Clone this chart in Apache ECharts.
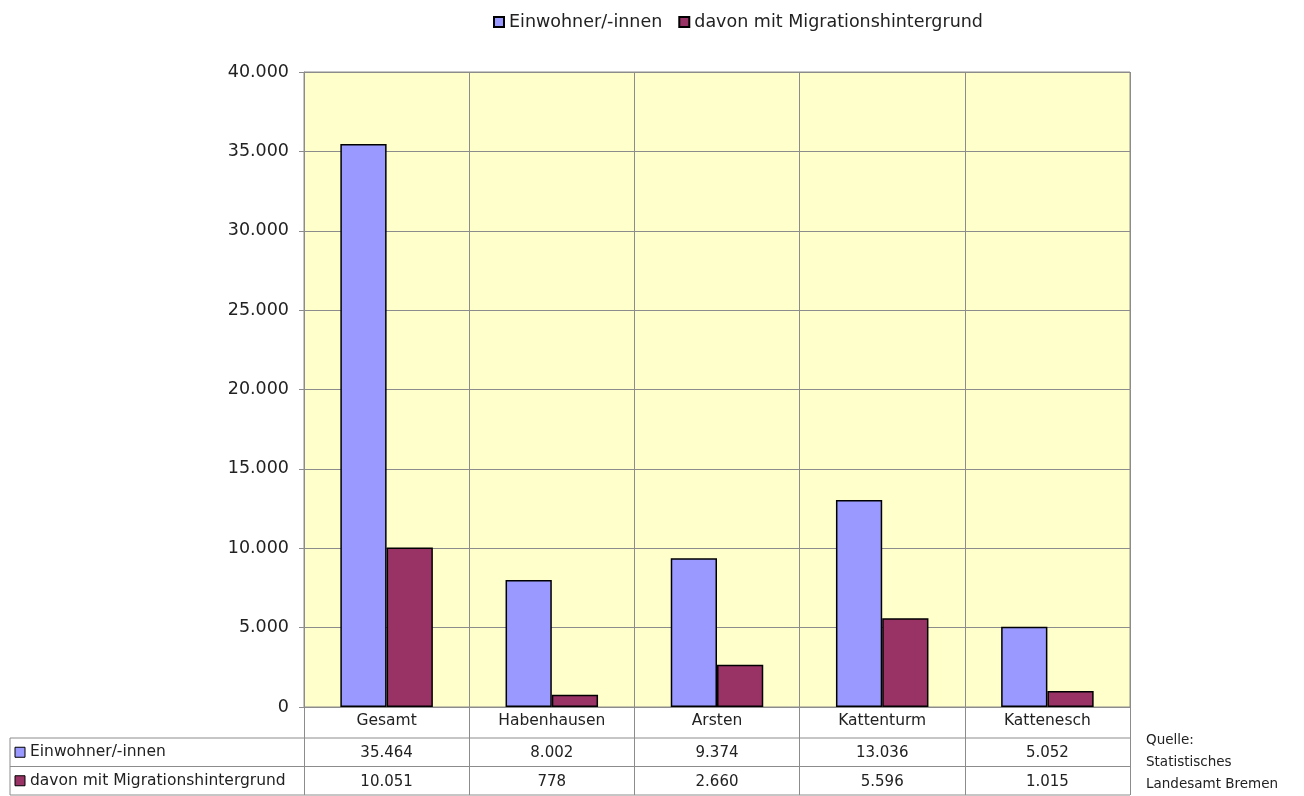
<!DOCTYPE html>
<html>
<head>
<meta charset="utf-8">
<script src="https://cdn.jsdelivr.net/npm/echarts@6/dist/echarts.min.js"></script>
<style>
  html, body { margin: 0; padding: 0; background: #fff; }
  #chart { width: 1304px; height: 796px; }
</style>
</head>
<body>
<div id="chart"></div>
<script>
const categories = ['Gesamt', 'Habenhausen', 'Arsten', 'Kattenturm', 'Kattenesch']
const einwohner = [35464, 8002, 9374, 13036, 5052]
const migration = [10051, 778, 2660, 5596, 1015]
const seriesNames = ['Einwohner/-innen', 'davon mit Migrationshintergrund']
const sourceLines = ['Quelle:', 'Statistisches', 'Landesamt Bremen']

const colors = ['#9999FF', '#993366']
const font = '"DejaVu Sans", Arial, sans-serif'
const textColor = '#222'
const lineColor = '#8c8c8c'

// plot area
const plotLeft = 304, plotRight = 1130, plotTop = 72, plotBottom = 707
const rowH = 28.5
const tableLeft = 10

// 35464 -> "35.464"
const fmt = v => String(v).replace(/\B(?=(\d{3})+(?!\d))/g, '.')

const tableAxis = (offset, values) => ({
  type: 'category',
  data: categories,
  position: 'bottom',
  offset: offset,
  axisLine: { show: false },
  axisTick: { show: false },
  axisLabel: {
    fontFamily: font, fontSize: 15, color: textColor, margin: 8,
    formatter: (v, i) => fmt(values[i])
  }
})

const tableGraphics = []
// horizontal table rows
;[plotBottom + 31, plotBottom + 31 + rowH, plotBottom + 31 + 2 * rowH].forEach(y => {
  tableGraphics.push({
    type: 'line',
    shape: { x1: tableLeft, y1: y, x2: plotRight, y2: y },
    style: { stroke: lineColor, lineWidth: 1 }
  })
})
tableGraphics.push({
  type: 'line',
  shape: { x1: tableLeft, y1: plotBottom + 31, x2: tableLeft, y2: plotBottom + 31 + 2 * rowH },
  style: { stroke: lineColor, lineWidth: 1 }
})
// row headers with keys
seriesNames.forEach((name, i) => {
  const cy = plotBottom + 31 + rowH * i + rowH / 2
  tableGraphics.push({
    type: 'rect',
    shape: { x: 15, y: cy - 5, width: 10, height: 10 },
    style: { fill: colors[i], stroke: '#000', lineWidth: 1 }
  })
  tableGraphics.push({
    type: 'text',
    x: 30, y: cy,
    style: { text: name, font: '15.5px ' + font, fill: textColor, textVerticalAlign: 'middle' }
  })
})
// source note
sourceLines.forEach((t, i) => {
  tableGraphics.push({
    type: 'text',
    x: 1146, y: 740 + i * 22,
    style: { text: t, font: '13.5px ' + font, fill: textColor, textVerticalAlign: 'middle' }
  })
})

const option = {
  animation: false,
  textStyle: { fontFamily: font },
  legend: {
    data: seriesNames,
    left: 488,
    top: 8,
    icon: 'rect',
    itemWidth: 10,
    itemHeight: 10,
    itemGap: 16,
    textStyle: { fontFamily: font, fontSize: 17.5, color: textColor }
  },
  grid: {
    left: plotLeft,
    right: 1304 - plotRight,
    top: plotTop,
    bottom: 796 - plotBottom,
    show: true,
    backgroundColor: '#FFFFCC',
    borderColor: lineColor,
    borderWidth: 1,
    containLabel: false
  },
  xAxis: [
    {
      type: 'category',
      data: categories,
      position: 'bottom',
      axisLine: { show: true, lineStyle: { color: lineColor } },
      axisTick: { show: true, length: 31 + 2 * rowH, lineStyle: { color: lineColor } },
      splitLine: { show: true, lineStyle: { color: lineColor } },
      axisLabel: { fontFamily: font, fontSize: 15.5, color: textColor, margin: 6 }
    },
    tableAxis(31, einwohner),
    tableAxis(31 + rowH, migration)
  ],
  yAxis: {
    type: 'value',
    min: 0,
    max: 40000,
    interval: 5000,
    axisLine: { show: true, lineStyle: { color: lineColor } },
    axisTick: { show: true, length: 5, lineStyle: { color: lineColor } },
    splitLine: { show: true, lineStyle: { color: lineColor } },
    axisLabel: {
      fontFamily: font, fontSize: 17.5, color: textColor, margin: 15,
      formatter: v => fmt(v)
    }
  },
  series: [
    {
      name: seriesNames[0],
      type: 'bar',
      xAxisIndex: 0,
      data: einwohner,
      barGap: '0%',
      barCategoryGap: '44%',
      itemStyle: { color: colors[0], borderColor: '#000', borderWidth: 1.5 }
    },
    {
      name: seriesNames[1],
      type: 'bar',
      xAxisIndex: 0,
      data: migration,
      barGap: '0%',
      barCategoryGap: '44%',
      itemStyle: { color: colors[1], borderColor: '#000', borderWidth: 1.5 }
    }
  ],
  graphic: tableGraphics
}

const chart = echarts.init(document.getElementById('chart'))
chart.setOption(option)
window.onresize = function () {
  chart.resize()
}
</script>
</body>
</html>
